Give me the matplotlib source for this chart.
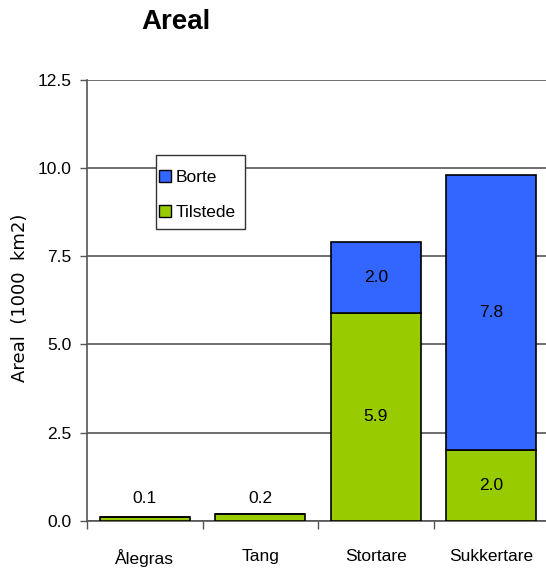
import matplotlib
matplotlib.use("Agg")
import matplotlib.pyplot as plt
from matplotlib.lines import Line2D
from matplotlib.patches import Rectangle
import numpy as np

plt.rcParams['font.family'] = ['Liberation Sans', 'DejaVu Sans']

categories = ["Ålegras", "Tang", "Stortare", "Sukkertare"]
tilstede = [0.1, 0.2, 5.9, 2.0]
borte = [0.0, 0.0, 2.0, 7.8]
yticks = [0.0, 2.5, 5.0, 7.5, 10.0, 12.5]

blue = "#3366FF"
green = "#99CC00"
grid_col = "#555555"

W, H = 546, 570
fig = plt.figure(figsize=(W / 100, H / 100), dpi=100)
ax_left, ax_bottom, ax_w, ax_h = 87, 49, 462, 441.5
ax = fig.add_axes([ax_left / W, ax_bottom / H, ax_w / W, ax_h / H])


def px(xp, yp):
    """Pixel position (from top-left) -> axes fraction."""
    return (xp - ax_left) / ax_w, (H - ax_bottom - yp) / ax_h


x = np.arange(len(categories))
w = 0.78
ax.bar(x, tilstede, width=w, color=green, edgecolor="black", linewidth=1.2, zorder=3)
ax.bar(x, borte, width=w, bottom=tilstede, color=blue, edgecolor="black",
       linewidth=1.2, zorder=3)

# value labels: inside the stacked segments, above the small single bars
small_top = max(t for t, b in zip(tilstede, borte) if b == 0)
for i, (t, b) in enumerate(zip(tilstede, borte)):
    if b > 0:
        ax.text(i, t / 2, f"{t:.1f}", ha="center", va="center", fontsize=12.5, zorder=4)
        ax.text(i, t + b / 2, f"{b:.1f}", ha="center", va="center", fontsize=12.5, zorder=4)
    else:
        ax.annotate(f"{t:.1f}", (i, small_top), xytext=(0, 6), textcoords="offset points",
                    ha="center", va="bottom", fontsize=12.5)

ax.set_xlim(-0.5, 3.5)
ax.set_ylim(0, 12.5)
ax.set_yticks(yticks)
ax.set_yticklabels([f"{v:.1f}" for v in yticks])
ax.yaxis.grid(True, color=grid_col, linewidth=1.2, zorder=0)
ax.set_axisbelow(True)

ax.set_xticks(x)
ax.set_xticklabels(categories)
ax.set_xticks(np.arange(-0.5, 3.5, 1.0), minor=True)
ax.tick_params(axis="x", which="major", length=0, pad=20, labelsize=12.5)
ax.tick_params(axis="x", which="minor", length=6, width=1, color=grid_col, direction="out")
ax.tick_params(axis="y", length=5, width=1, color=grid_col, direction="out",
               pad=6, labelsize=12.5)

for s in ["top", "right"]:
    ax.spines[s].set_visible(False)
for s in ["left", "bottom"]:
    ax.spines[s].set_color(grid_col)
    ax.spines[s].set_linewidth(1.2)

fig.text(20 / W, 1 - 298 / H, "Areal  (1000  km2)", rotation=90, fontsize=13,
         family=["DejaVu Sans"], ha="center", va="center")

# legend box drawn as its own frame, entries placed inside it
x0, y0 = px(156, 229)
x1, y1 = px(245, 155)
ax.add_patch(Rectangle((x0, y0), x1 - x0, y1 - y0, transform=ax.transAxes,
                       facecolor="white", edgecolor="#333333", linewidth=1.0,
                       zorder=5, clip_on=False))
handles = [
    Line2D([], [], marker="s", linestyle="none", markersize=8,
           markerfacecolor=blue, markeredgecolor="black", markeredgewidth=1.0),
    Line2D([], [], marker="s", linestyle="none", markersize=8,
           markerfacecolor=green, markeredgecolor="black", markeredgewidth=1.0),
]
leg = ax.legend(handles, ["Borte", "Tilstede"], loc="upper left",
                bbox_to_anchor=px(160, 170),
                fontsize=12.5, frameon=False,
                handlelength=0.6, handletextpad=0.3,
                labelspacing=1.15, borderpad=0.0, borderaxespad=0.0)
leg.set_zorder(6)

fig.text(176 / W, 1 - 22 / H, "Areal", fontsize=20, fontweight="bold",
         ha="center", va="center")

fig.savefig("out.png", dpi=100)
